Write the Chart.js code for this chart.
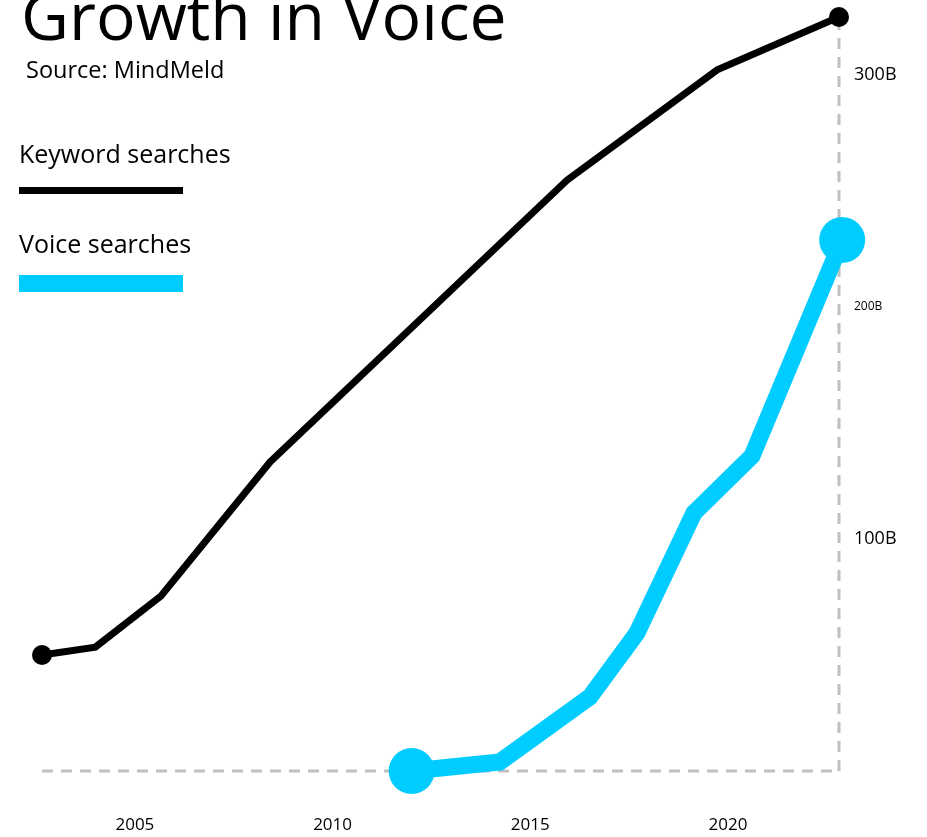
<!DOCTYPE html>
<html>
<head>
<meta charset="utf-8">
<script src="https://cdn.jsdelivr.net/npm/chart.js@4.4.0/dist/chart.umd.min.js"></script>
<style>
  html, body { margin: 0; padding: 0; background: #fff; }
  #wrap { position: relative; width: 927px; height: 837px; overflow: hidden; font-family: "Open Sans", sans-serif; color: #000; }
  #chart { position: absolute; left: 0; top: 0; }
  .txt { position: absolute; white-space: nowrap; line-height: 1; }
  #title { left: 21px; top: -19px; font-size: 66px; }
  #source { left: 26px; top: 58px; font-size: 23.5px; }
  .leg-label { left: 19px; font-size: 25px; }
  .leg-bar { position: absolute; left: 19px; width: 164px; }
</style>
</head>
<body>
<div id="wrap">
  <canvas id="chart" width="927" height="837"></canvas>
  <div class="txt" id="title">Growth in Voice</div>
  <div class="txt" id="source">Source: MindMeld</div>
  <div class="txt leg-label" style="top:141px">Keyword searches</div>
  <div class="leg-bar" style="top:187px;height:7px;background:#000"></div>
  <div class="txt leg-label" style="top:231px">Voice searches</div>
  <div class="leg-bar" style="top:275px;height:17px;background:#00ccff"></div>
</div>
<script>
// searches per year, in billions
const keywordYears = [2002.65, 2004.0, 2005.66, 2008.42, 2015.93, 2019.73, 2022.81];
const keywordValues = [50, 53.4, 75.4, 133.2, 254.7, 302.2, 325];
const voiceYears = [2012.0, 2014.23, 2016.51, 2017.7, 2019.14, 2020.61, 2022.89];
const voiceValues = [0, 3.9, 31.9, 59.5, 111.2, 135.8, 228.9];
const xTicks = [2005, 2010, 2015, 2020];
const yTicks = [100, 200, 300];

Chart.defaults.font.family = '"Open Sans", sans-serif';
Chart.defaults.color = '#000';

const toPoints = (xs, ys) => xs.map((x, i) => ({ x: x, y: ys[i] }));
const endsOnly = r => ctx => (ctx.dataIndex === 0 || ctx.dataIndex === ctx.dataset.data.length - 1) ? r : 0;

// border.dash only applies to grid lines, so the dashed axis lines are drawn here
const dashedAxes = {
  id: 'dashedAxes',
  beforeDatasetsDraw(chart) {
    const a = chart.chartArea;
    const c = chart.ctx;
    c.save();
    c.strokeStyle = '#c0c0c0';
    c.lineWidth = 3;
    c.setLineDash([11, 8]);
    c.beginPath();
    c.moveTo(a.left, a.bottom);
    c.lineTo(a.right, a.bottom);
    c.moveTo(a.right, a.bottom);
    c.lineTo(a.right, a.top);
    c.stroke();
    c.restore();
  }
};

const ctx = document.getElementById('chart').getContext('2d');
const myChart = new Chart(ctx, {
  type: 'line',
  data: {
    datasets: [{
      label: 'Keyword searches',
      data: toPoints(keywordYears, keywordValues),
      borderColor: '#000',
      backgroundColor: '#000',
      borderWidth: 7,
      pointRadius: endsOnly(10),
      pointBorderWidth: 0,
      tension: 0,
      borderJoinStyle: 'miter'
    }, {
      label: 'Voice searches',
      data: toPoints(voiceYears, voiceValues),
      borderColor: '#00ccff',
      backgroundColor: '#00ccff',
      borderWidth: 17,
      pointRadius: endsOnly(23),
      pointBorderWidth: 0,
      tension: 0,
      borderJoinStyle: 'miter'
    }]
  },
  options: {
    responsive: false,
    animation: false,
    clip: false,
    layout: { autoPadding: false, padding: { left: 42, top: 17, right: 0, bottom: 0 } },
    plugins: { legend: { display: false }, tooltip: { enabled: false } },
    scales: {
      x: {
        type: 'linear',
        min: 2002.65,
        max: 2022.81,
        grid: { display: false, drawTicks: false },
        border: { display: false },
        afterBuildTicks: s => { s.ticks = xTicks.map(v => ({ value: v })); },
        afterFit: s => { s.height = 66; s.paddingLeft = 0; s.paddingRight = 0; },
        ticks: { padding: 44, font: { size: 17 }, callback: v => String(v) }
      },
      y: {
        position: 'right',
        min: 0,
        max: 325,
        grid: { display: false, drawTicks: false },
        border: { display: false },
        afterBuildTicks: s => { s.ticks = yTicks.map(v => ({ value: v })); },
        afterFit: s => { s.width = 88; s.paddingTop = 0; s.paddingBottom = 0; },
        ticks: {
          padding: 15,
          font: c => ({ size: c.tick && c.tick.value === 200 ? 12 : 18 }),
          callback: v => v + 'B'
        }
      }
    }
  },
  plugins: [dashedAxes]
});
</script>
</body>
</html>
